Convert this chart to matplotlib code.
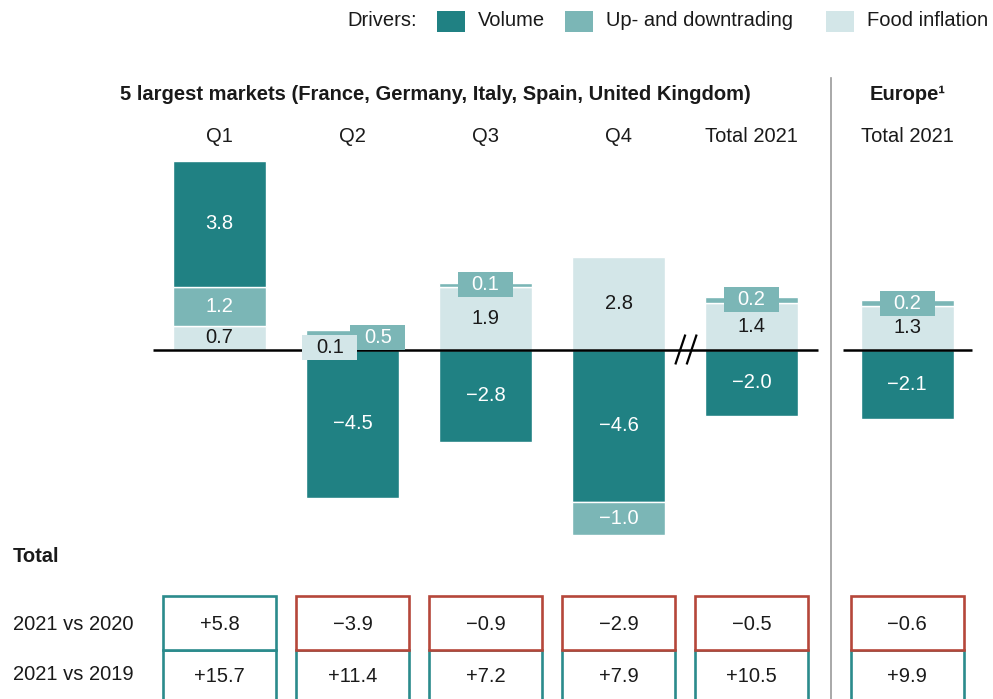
import matplotlib
matplotlib.use("Agg")
import matplotlib.pyplot as plt
from matplotlib.patches import Rectangle

plt.rcParams['font.family'] = ['Liberation Sans', 'DejaVu Sans']

# data
columns = ["Q1", "Q2", "Q3", "Q4", "Total 2021", "Total 2021"]
volume = [3.8, -4.5, -2.8, -4.6, -2.0, -2.1]
updown = [1.2, 0.5, 0.1, -1.0, 0.2, 0.2]
food = [0.7, 0.1, 1.9, 2.8, 1.4, 1.3]
vs_2020 = [5.8, -3.9, -0.9, -2.9, -0.5, -0.6]
vs_2019 = [15.7, 11.4, 7.2, 7.9, 10.5, 9.9]
row_labels = ["2021 vs 2020", "2021 vs 2019"]
legend_labels = ["Volume", "Up- and downtrading", "Food inflation"]

# colours
DARK = "#208183"
MID = "#7bb6b6"
LIGHT = "#d3e6e8"
POS = "#2b8b8c"
NEG = "#b5473a"
TXT = "#1a1a1a"
FS = 14.5

# layout (pixels)
W, H = 993, 699
X0, DX = 219.5, 133.0
ZERO_Y, SCALE = 349.5, 33.1
xpos = [0, 1, 2, 3, 4, 5.17]
bar_w = 0.70

fig = plt.figure(figsize=(W / 100, H / 100), dpi=100)

# overlay axes in pixel coordinates for text / table
ov = fig.add_axes([0, 0, 1, 1])
ov.set_xlim(0, W)
ov.set_ylim(H, 0)
ov.axis("off")

# bar axes in data coordinates
ax = fig.add_axes([0, 0, 1, 1])
ax.set_xlim((0 - X0) / DX, (W - X0) / DX)
ax.set_ylim((ZERO_Y - H) / SCALE, ZERO_Y / SCALE)
ax.axis("off")
ax.patch.set_alpha(0)


def fmt(v):
    s = f"{abs(v):.1f}"
    return ("\u2212" + s) if v < 0 else s


def fmt_sign(v):
    s = f"{abs(v):.1f}"
    return ("\u2212" + s) if v < 0 else "+" + s


colors = [DARK, MID, LIGHT]
txt_colors = ["white", "white", TXT]
box_w, box_h = 55 / DX, 25 / SCALE

for i, x in enumerate(xpos):
    # positive stacks from baseline: food, up/down, volume; negatives: volume, up/down, food
    pos_order = [(2, food[i]), (1, updown[i]), (0, volume[i])]
    neg_order = [(0, volume[i]), (1, updown[i]), (2, food[i])]
    segs = []
    top = 0.0
    for k, v in pos_order:
        if v > 0:
            segs.append((k, top, v))
            top += v
    bot = 0.0
    for k, v in neg_order:
        if v < 0:
            segs.append((k, bot, v))
            bot += v
    small = [s for s in segs if abs(s[2]) < 0.6]
    for k, b, v in segs:
        ax.bar(x, v, bottom=b, width=bar_w, color=colors[k],
               edgecolor="white", linewidth=1.0, zorder=2)
    for k, b, v in segs:
        if abs(v) >= 0.6:
            ax.text(x, b + v / 2, fmt(v), ha="center", va="center",
                    fontsize=FS, color=txt_colors[k], zorder=5)
    # callout boxes for thin segments (draw up/down first so food sits on top)
    small.sort(key=lambda s: s[0])
    for j, (k, b, v) in enumerate(small):
        off = 0.0
        if len(small) > 1:
            off = 0.19 if k == 1 else -0.17
        cy = b + v / 2
        ax.add_patch(Rectangle((x + off - box_w / 2, cy - box_h / 2), box_w, box_h,
                               facecolor=colors[k], edgecolor="none", zorder=4 + k))
        ax.text(x + off, cy, fmt(v), ha="center", va="center", fontsize=FS,
                color=txt_colors[k], zorder=6 + k)

# baseline (split) and break marks
ax.plot([-0.5, 4.5], [0, 0], color="black", lw=1.8, zorder=3, solid_capstyle="butt")
ax.plot([4.688, 5.658], [0, 0], color="black", lw=1.8, zorder=3, solid_capstyle="butt")
for bx in [3.465, 3.55]:
    ax.plot([bx - 0.035, bx + 0.035], [-0.42, 0.42], color="black", lw=1.6, zorder=3)

# divider
ov.plot([831, 831], [78, H], color="#9a9a9a", lw=1.2)

# headers
ov.text(435, 95, "5 largest markets (France, Germany, Italy, Spain, United Kingdom)",
        ha="center", va="center", fontsize=FS, fontweight="bold", color=TXT)
ov.text(908, 95, "Europe\u00b9", ha="center", va="center", fontsize=FS,
        fontweight="bold", color=TXT)
for i, x in enumerate(xpos):
    ov.text(X0 + DX * x, 136, columns[i], ha="center", va="center",
            fontsize=FS, color=TXT)

# legend
ov.text(417, 21, "Drivers:", ha="right", va="center", fontsize=FS, color=TXT)
leg_x = [437, 565, 826]
for lx, c, lab in zip(leg_x, colors, legend_labels):
    ov.add_patch(Rectangle((lx, 11), 28, 21, facecolor=c, edgecolor="none"))
    ov.text(lx + 41, 21, lab, ha="left", va="center", fontsize=FS, color=TXT)

# table
ov.text(13, 556, "Total", ha="left", va="center", fontsize=FS,
        fontweight="bold", color=TXT)
ov.text(13, 624, row_labels[0], ha="left", va="center", fontsize=FS, color=TXT)
ov.text(13, 675, row_labels[1], ha="left", va="center", fontsize=FS, color=TXT)
cell_w = 113
rows = [(vs_2019, 650, 70, 677), (vs_2020, 596, 54, 624)]
for vals, y0, h, ty in rows:
    for i, x in enumerate(xpos):
        cx = X0 + DX * x
        ec = POS if vals[i] >= 0 else NEG
        ov.add_patch(Rectangle((cx - cell_w / 2, y0), cell_w, h, facecolor="white",
                               edgecolor=ec, lw=1.9))
        ov.text(cx, ty, fmt_sign(vals[i]), ha="center", va="center",
                fontsize=FS, color=TXT)

fig.savefig("out.png", dpi=100)
